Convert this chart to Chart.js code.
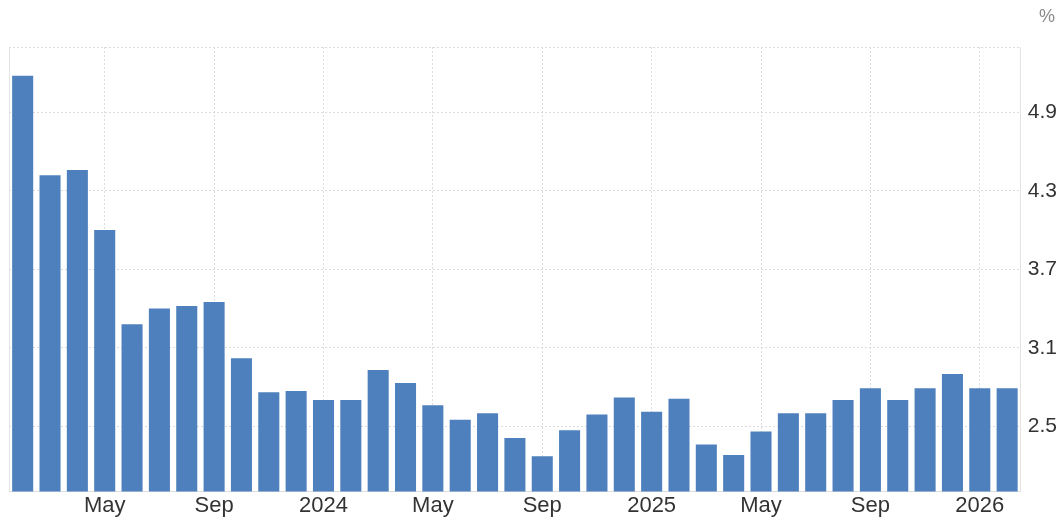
<!DOCTYPE html>
<html>
<head>
<meta charset="utf-8">
<script src="https://cdn.jsdelivr.net/npm/chart.js@4"></script>
<style>
  html, body { margin: 0; padding: 0; background: #fff; }
  #wrap { width: 1063px; height: 526px; position: relative; }
</style>
</head>
<body>
<div id="wrap"><canvas id="rateChart"></canvas></div>
<script>
// Monthly rate, Feb 2023 .. Feb 2026 (one bar per month)
const categories = [
  'Feb', 'Mar', 'Apr', 'May', 'Jun', 'Jul', 'Aug', 'Sep', 'Oct', 'Nov', 'Dec',
  '2024', 'Feb', 'Mar', 'Apr', 'May', 'Jun', 'Jul', 'Aug', 'Sep', 'Oct', 'Nov', 'Dec',
  '2025', 'Feb', 'Mar', 'Apr', 'May', 'Jun', 'Jul', 'Aug', 'Sep', 'Oct', 'Nov', 'Dec',
  '2026', 'Feb'
];
const values = [
  5.18, 4.42, 4.46, 4.00, 3.28, 3.40, 3.42, 3.45, 3.02, 2.76, 2.77,
  2.70, 2.70, 2.93, 2.83, 2.66, 2.55, 2.60, 2.41, 2.27, 2.47, 2.59, 2.72,
  2.61, 2.71, 2.36, 2.28, 2.46, 2.60, 2.60, 2.70, 2.79, 2.70, 2.79, 2.90,
  2.79, 2.79
];
const shownXTicks = ['May', 'Sep', '2024', '2025', '2026'];
const yTicks = [2.5, 3.1, 3.7, 4.3, 4.9, 5.4];
const yMin = 2.0;
const yMax = 5.4;

const FONT = "'Liberation Sans', Arial, sans-serif";

// draws the left edge of the plot and the unit label in the corner
const frame = {
  id: 'frame',
  afterDraw(chart) {
    const { ctx, chartArea } = chart;
    ctx.save();
    ctx.strokeStyle = '#e3e3e3';
    ctx.lineWidth = 1;
    ctx.beginPath();
    ctx.moveTo(chartArea.left + 0.5, chartArea.top);
    ctx.lineTo(chartArea.left + 0.5, chartArea.bottom);
    ctx.stroke();
    ctx.fillStyle = '#8a8a8a';
    ctx.font = '18px ' + FONT;
    ctx.textAlign = 'center';
    ctx.textBaseline = 'middle';
    ctx.fillText('%', 1047, 17);
    ctx.restore();
  }
};

new Chart(document.getElementById('rateChart').getContext('2d'), {
  type: 'bar',
  data: {
    labels: categories,
    datasets: [{
      data: values,
      backgroundColor: '#4e80bd',
      barPercentage: 0.77,
      categoryPercentage: 1.0
    }]
  },
  options: {
    responsive: true,
    maintainAspectRatio: false,
    animation: false,
    layout: { padding: { left: 9, top: 47, right: -1, bottom: 6 } },
    plugins: {
      legend: { display: false },
      tooltip: { enabled: false }
    },
    scales: {
      x: {
        offset: true,
        grid: {
          offset: false,
          drawTicks: false,
          color: (c) => (c.tick && shownXTicks.includes(c.tick.label) ? '#dcdcdc' : 'rgba(0,0,0,0)')
        },
        border: { display: true, color: '#dddddd', dash: [2, 2] },
        ticks: {
          autoSkip: false,
          maxRotation: 0,
          padding: 1,
          color: '#333333',
          font: { size: 22, family: FONT },
          callback: function (v) {
            const lab = this.getLabelForValue(v);
            return shownXTicks.includes(lab) ? lab : '';
          }
        }
      },
      y: {
        position: 'right',
        min: yMin,
        max: yMax,
        afterBuildTicks: (axis) => {
          axis.ticks = yTicks.map((v) => ({ value: v }));
        },
        grid: { drawTicks: false, color: '#dcdcdc' },
        border: { color: '#e3e3e3', dash: [2, 2] },
        ticks: {
          padding: 7,
          color: '#333333',
          font: { size: 21, family: FONT },
          callback: (v) => (v === yMax ? '' : v.toFixed(1))
        }
      }
    }
  },
  plugins: [frame]
});
</script>
</body>
</html>
